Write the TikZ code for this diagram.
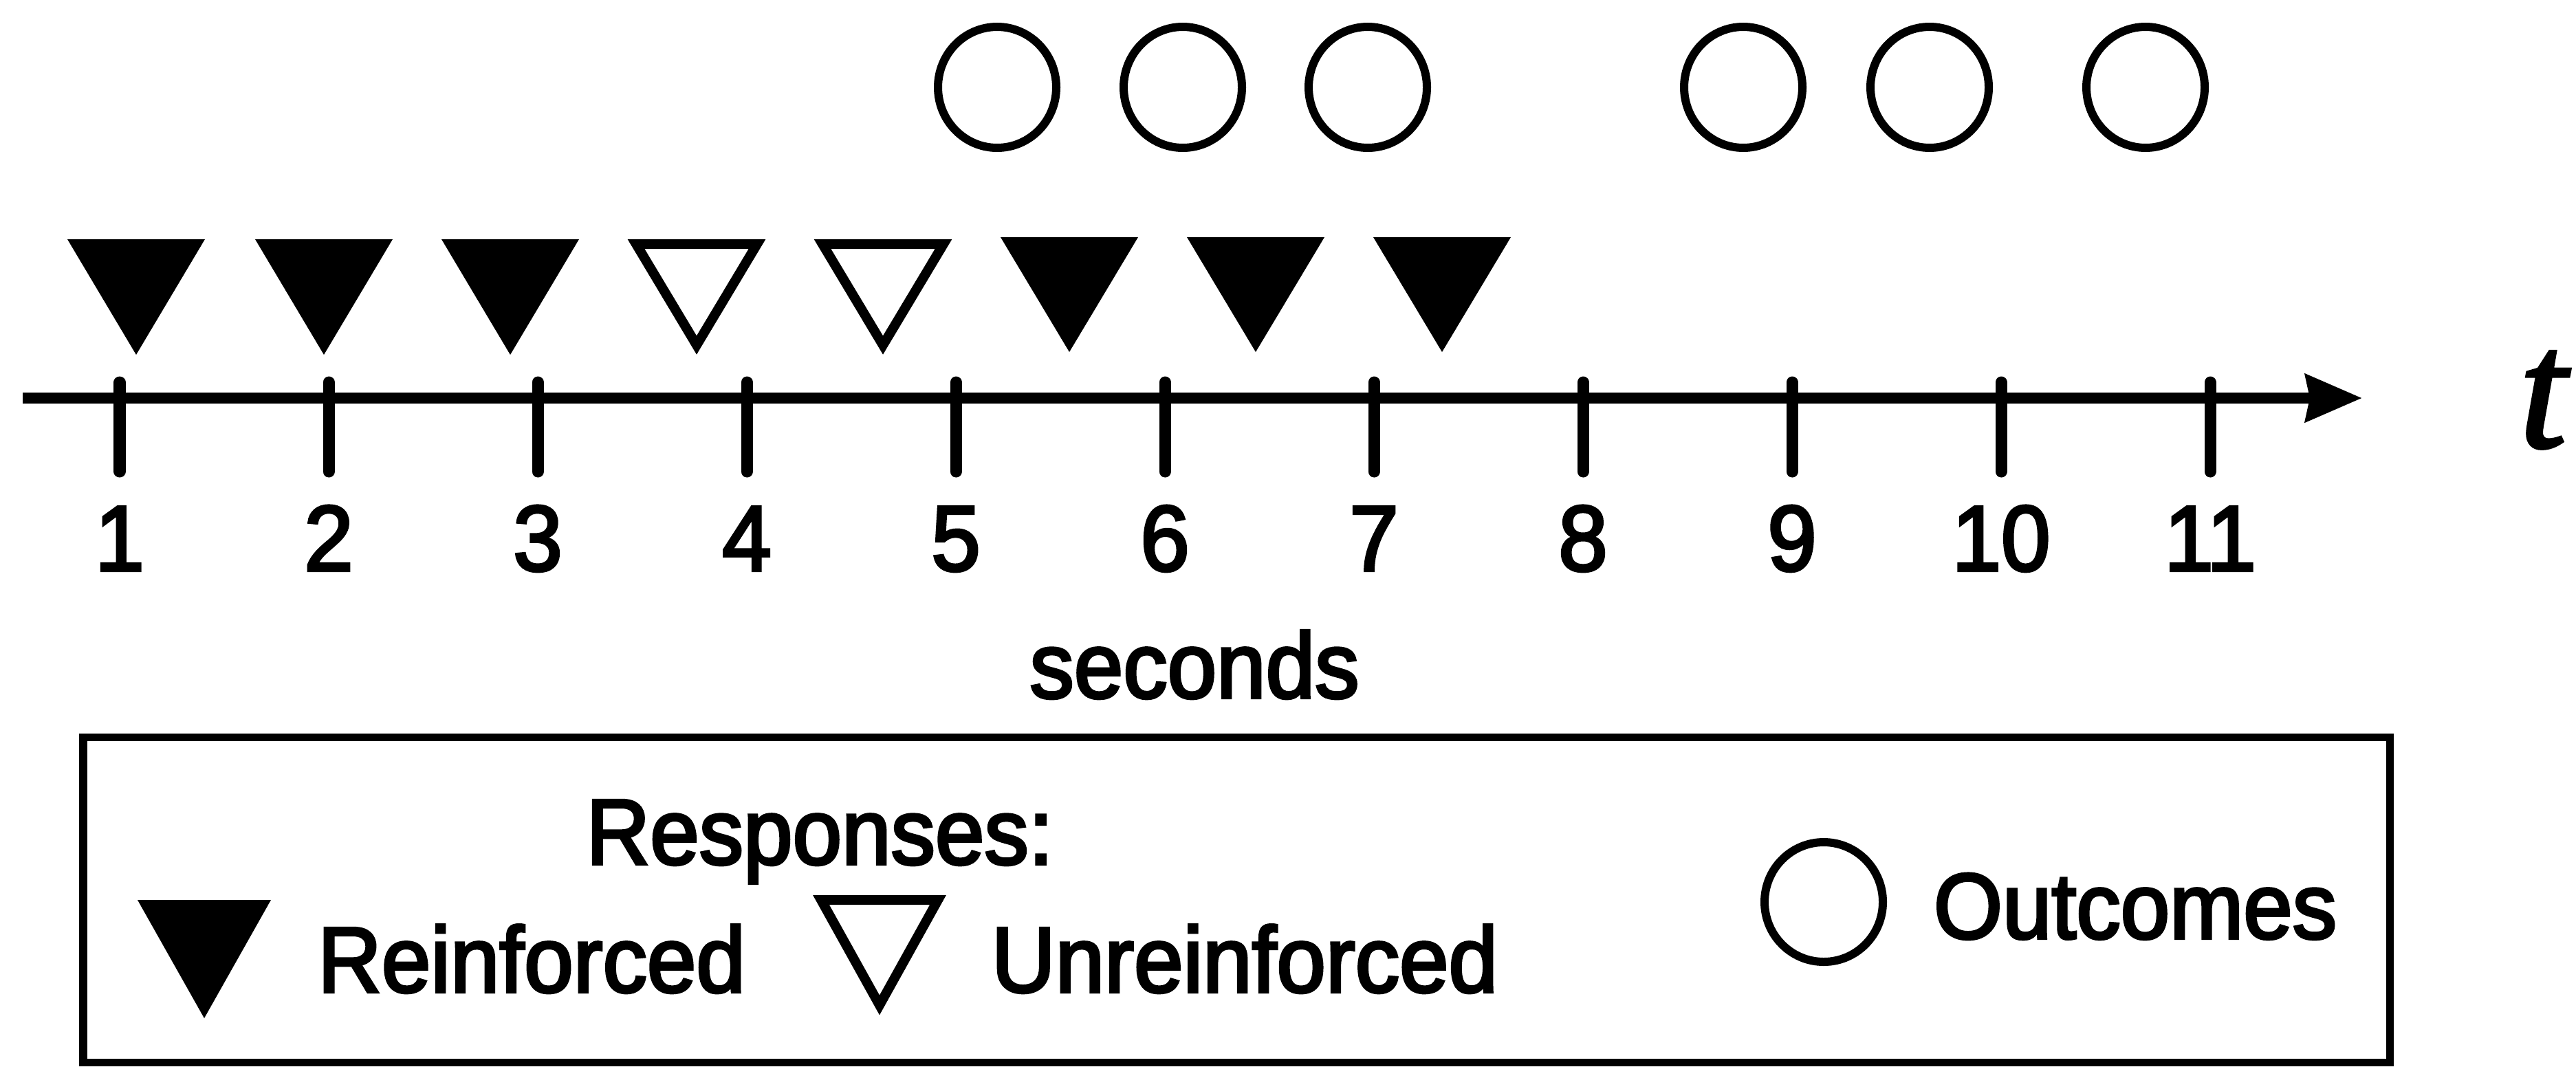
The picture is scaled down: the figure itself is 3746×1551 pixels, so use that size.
\documentclass[tikz,border=0pt]{standalone}
\usepackage{fontspec}
\usetikzlibrary{arrows.meta}
\newfontfamily\labfont[FakeStretch=0.95,FakeBold=3]{Liberation Sans}
\newfontfamily\varfont[FakeBold=2]{Liberation Serif}

% Coordinates are given in pixels of a 3746 x 1551 canvas, y pointing down.
\tikzset{
  lab/.style={inner sep=0pt, anchor=base, font=\labfont\fontsize{38.5}{46}\selectfont},
  tickline/.style={line width=0.17cm, line cap=round},
  hollowtri/.style={line width=0.14cm, line join=miter},
  outcome/.style={line width=0.12cm},
  legendbox/.style={line width=0.11cm}
}
% response marker centred at x = #1, top edge at y = #2, apex at y = #3, half width #4
\newcommand\filledresp[4]{\fill (#1-#4,#2) -- (#1+#4,#2) -- (#1,#3) -- cycle;}
\newcommand\hollowresp[4]{\draw[hollowtri] (#1-#4+12,#2+7) -- (#1+#4-12,#2+7) -- (#1,#3-14) -- cycle;}

\begin{document}
\begin{tikzpicture}[x=0.01cm, y=-0.01cm]
  \useasboundingbox (0,0) rectangle (3746,1551);

  % time axis
  \coordinate (axstart) at (33,579);
  \coordinate (axend) at (3435,579);
  \draw[line width=0.16cm, -{Stealth[length=0.82cm, width=0.68cm, inset=0.06cm]}] (axstart) -- (axend);
  \node[inner sep=0pt, anchor=base, font=\varfont\itshape\fontsize{70}{80}\selectfont] (tlabel) at (3698,650) {t};

  % ticks and second labels
  \foreach \i in {1,...,11} {
    \pgfmathsetmacro\xx{174+304*(\i-1)}
    \draw[tickline] (\xx,556) -- (\xx,686);
    \node[lab] (sec\i) at (\xx,830) {\i};
  }
  \node[lab] (unit) at (1737,1015) {seconds};

  % responses: reinforced (filled) and unreinforced (open)
  \foreach \c in {198,471,742} { \filledresp{\c}{348}{516}{100} }
  \foreach \c in {1013,1284} { \hollowresp{\c}{348}{516}{100} }
  \foreach \c in {1555,1826,2097} { \filledresp{\c}{345}{512}{100} }

  % outcomes
  \foreach \c in {1450,1720,1989,2535,2806,3120} {
    \draw[outcome] (\c,127) ellipse [x radius=86, y radius=88];
  }

  % legend
  \draw[legendbox] (121,1072) rectangle (3475,1545);
  \node[lab] (resp) at (1192,1257) {Responses:};
  \filledresp{297}{1309}{1481}{97}
  \node[lab] (reinf) at (773,1443) {Reinforced};
  \hollowresp{1279}{1302}{1476}{97}
  \node[lab] (unreinf) at (1810,1443) {Unreinforced};
  \draw[outcome] (2652,1312) ellipse [x radius=86, y radius=87];
  \node[lab] (outc) at (3105,1365) {Outcomes};
\end{tikzpicture}
\end{document}
